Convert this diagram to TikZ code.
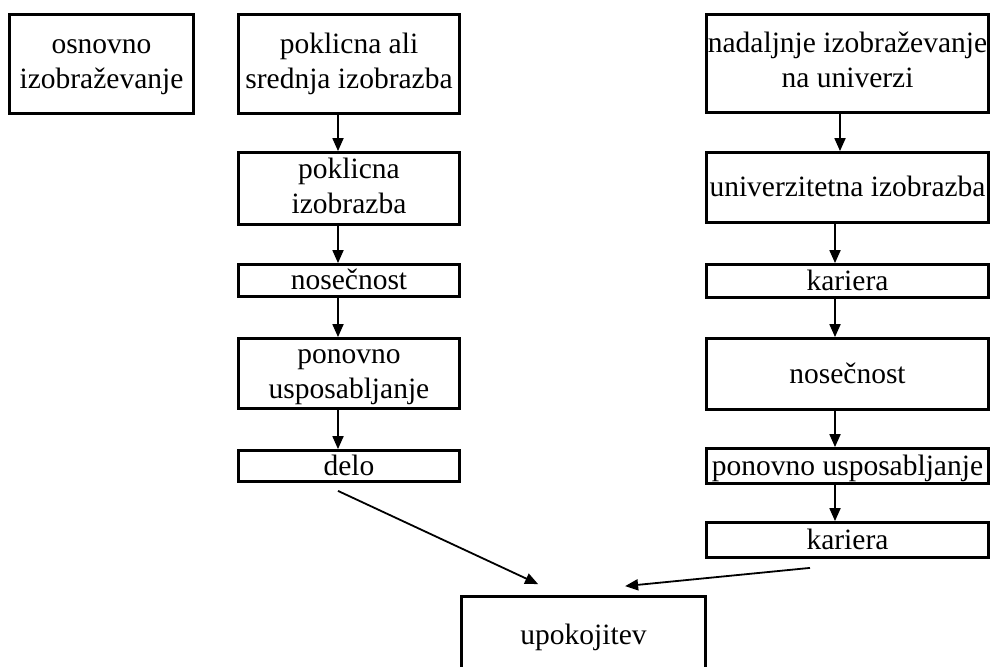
\documentclass[tikz,border=0pt]{standalone}
\usepackage{fontspec}
\setmainfont{Liberation Serif}
\usetikzlibrary{arrows.meta,calc}
\newcommand{\twoln}[2]{\raisebox{-3.5pt}{\begin{tabular}{@{}c@{}}#1\\#2\end{tabular}}}
\begin{document}
\begin{tikzpicture}[x=1pt,y=-1pt,
  box/.style={draw, line width=2.8pt, align=center, inner sep=0pt, outer sep=1.4pt,
    font=\fontsize{29.5}{35}\selectfont},
  oneln/.style={box, text height=24pt, text depth=6pt},
  arr/.style={line width=1.8pt, -{Triangle[width=11pt,length=13pt]}}]
\useasboundingbox (0,0) rectangle (992,666);
% column x for vertical arrows
\coordinate (xl) at (338,0);
\coordinate (xr) at (840,0);
\coordinate (xs) at (835,0);
% top row
\node[box, minimum width=184pt, minimum height=99pt] (B1) at (101.5,64) {\twoln{osnovno}{izobraževanje}};
\node[box, minimum width=221pt, minimum height=99pt] (L1) at (349,64) {\twoln{poklicna ali}{srednja izobrazba}};
\node[box, minimum width=282pt, minimum height=98pt] (R1) at (847.5,63.5) {\twoln{nadaljnje izobraževanje}{na univerzi}};
% left column
\node[box, minimum width=221pt, minimum height=72pt] (L2) at (349,188.5) {\twoln{poklicna}{izobrazba}};
\node[oneln, minimum width=221pt, minimum height=32pt] (L3) at (349,280.5) {nosečnost};
\node[box, minimum width=221pt, minimum height=70pt] (L4) at (349,373.5) {\twoln{ponovno}{usposabljanje}};
\node[oneln, minimum width=221pt, minimum height=31pt] (L5) at (349,466) {delo};
% right column
\node[oneln, minimum width=282pt, minimum height=70pt] (R2) at (847.5,187.5) {univerzitetna izobrazba};
\node[oneln, minimum width=282pt, minimum height=33pt] (R3) at (847.5,281) {kariera};
\node[oneln, minimum width=282pt, minimum height=71pt] (R4) at (847.5,374) {nosečnost};
\node[oneln, minimum width=282pt, minimum height=35pt] (R5) at (847.5,466) {ponovno usposabljanje};
\node[oneln, minimum width=282pt, minimum height=35pt] (R6) at (847.5,540) {kariera};
% bottom
\node[oneln, minimum width=244pt, minimum height=77pt] (U) at (583.5,635) {upokojitev};
% vertical arrows
\draw[arr] (L1.south -| xl) -- (L2.north -| xl);
\draw[arr] (L2.south -| xl) -- (L3.north -| xl);
\draw[arr] (L3.south -| xl) -- (L4.north -| xl);
\draw[arr] (L4.south -| xl) -- (L5.north -| xl);
\draw[arr] (R1.south -| xr) -- (R2.north -| xr);
\draw[arr] (R2.south -| xs) -- (R3.north -| xs);
\draw[arr] (R3.south -| xs) -- (R4.north -| xs);
\draw[arr] (R4.south -| xs) -- (R5.north -| xs);
\draw[arr] (R5.south -| xs) -- (R6.north -| xs);
% diagonal arrows
\coordinate (d1) at ($(L5.south -| xl)+(0,8)$);
\coordinate (d2) at ($(U.north west)+(78,-11)$);
\coordinate (k1) at ($(R6.south)+(-37.5,9)$);
\coordinate (k2) at ($(U.north west)+(165,-9)$);
\draw[arr] (d1) -- (d2);
\draw[arr] (k1) -- (k2);
\end{tikzpicture}
\end{document}
